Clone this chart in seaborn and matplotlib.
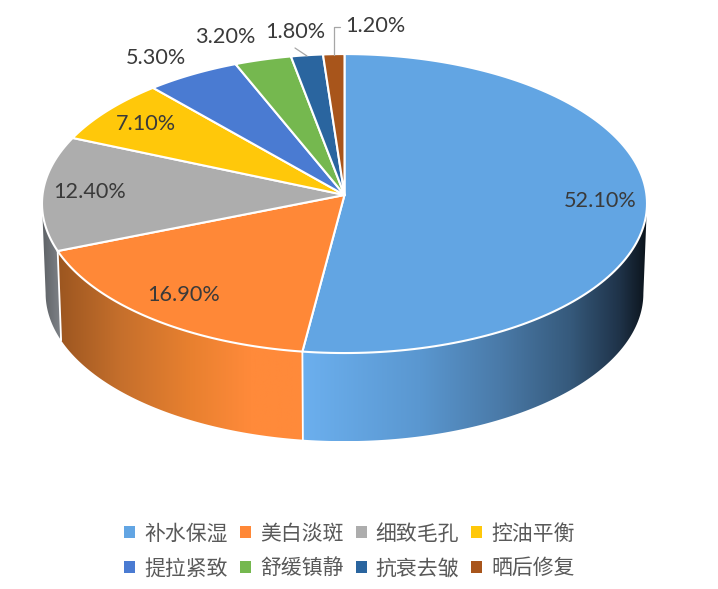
import numpy as np
import matplotlib
matplotlib.use('Agg')
import matplotlib.pyplot as plt
import seaborn as sns
from matplotlib.colors import LinearSegmentedColormap
from matplotlib.patches import Patch, Polygon

# данные
categories = ['补水保湿', '美白淡斑', '细致毛孔', '控油平衡', '提拉紧致', '舒缓镇静', '抗衰去皱', '晒后修复']
values = [52.1, 16.9, 12.4, 7.1, 5.3, 3.2, 1.8, 1.2]
top_colors = ['#62a5e3', '#ff8837', '#adadad', '#ffc80a', '#4a7bd2', '#75b84f', '#2a659f', '#a8551b']
label_pos = [(600, 201), (184, 295), (90, 192), (146, 124), (156, 58), (225, 37), (295, 32), (375, 26)]

# геометрия пирога в пикселях
CX, CY = 344.5, 195
A, B = 302, 149
K = 0.0572      # перспектива
DEPTH = 90
BOTTOM_SCALE = 0.988

sns.set_theme(style='white')
plt.rcParams['font.family'] = ['Noto Sans CJK SC', 'DejaVu Sans']

fig = plt.figure(figsize=(7.18, 5.89), dpi=100)
ax = fig.add_axes([0, 0, 1, 1])
ax.set_axis_off()
palette = sns.color_palette(top_colors)


def rim(theta, scale=1.0, dy=0.0):
    """Точка края диска для угла theta (градусы)."""
    t = np.radians(theta)
    w = 1 + K * np.sin(t)
    return CX + scale * A * np.cos(t) / w, CY + dy - scale * B * np.sin(t) / w


def side_wall(t0, t1, stops):
    """Боковая стенка с горизонтальным градиентом."""
    th = np.linspace(t0, t1, 120)
    x_top, y_top = rim(th)
    x_bot, y_bot = rim(th, BOTTOM_SCALE, DEPTH)
    pts = np.vstack([np.column_stack([x_top, y_top]), np.column_stack([x_bot, y_bot])[::-1]])
    xs = [s[0] for s in stops]
    cmap = LinearSegmentedColormap.from_list(
        'w', [((x - xs[0]) / (xs[-1] - xs[0]), c) for x, c in stops])
    im = ax.imshow(np.linspace(0, 1, 256)[None, :], cmap=cmap, aspect='auto',
                   extent=(xs[0], xs[-1], pts[:, 1].max(), pts[:, 1].min()), zorder=1)
    im.set_clip_path(Polygon(pts, transform=ax.transData))


# границы секторов: от 90 градусов по часовой стрелке
edges = 90 - 3.6 * np.concatenate([[0], np.cumsum(values)])
sil = np.degrees(np.arcsin(K))

side_wall(edges[1], -sil, [(300, '#6cb0ef'), (420, '#5a97d0'), (500, '#4a7aa8'),
                           (570, '#365a7c'), (620, '#1f3349'), (647, '#0c141c')])
side_wall(edges[2], edges[1], [(58, '#9c5620'), (120, '#c56f2c'), (190, '#e8802f'),
                               (250, '#ff8a3a'), (304, '#ff8a3a')])
side_wall(-180 + sil, edges[2], [(40, '#5a5e62'), (60, '#7d8186')])

# разделители на стенке
for e in (edges[1], edges[2]):
    x0, y0 = rim(e)
    x1, y1 = rim(e, BOTTOM_SCALE, DEPTH)
    ax.plot([x0, x1], [y0, y1], color='white', lw=1.3, zorder=2)

# верхняя крышка
for i, color in enumerate(palette):
    th = np.linspace(edges[i], edges[i + 1], 150)
    x, y = rim(th)
    ax.fill(np.r_[CX, x], np.r_[CY, y], facecolor=color, edgecolor='white', lw=1.5,
            joinstyle='round', zorder=3)

# подписи значений
for v, (px, py) in zip(values, label_pos):
    ax.text(px, py, f'{v:.2f}%', ha='center', va='center', fontsize=15.6,
            family=['Lato', 'DejaVu Sans'], color='#3a3a3a', zorder=5)

# выноски
ax.plot([295, 307], [48, 56], color='#a6a6a6', lw=0.9, zorder=4)
ax.plot([334, 334, 340], [55, 27, 27], color='#a6a6a6', lw=0.9, zorder=4)

ax.set_xlim(0, 718)
ax.set_ylim(589, 0)

# легенда заполняется по столбцам, поэтому порядок меняем, чтобы читалась по строкам
order = [0, 4, 1, 5, 2, 6, 3, 7]
handles = [Patch(facecolor=palette[i], edgecolor='none') for i in order]
ax.legend(handles, [categories[i] for i in order], ncol=4, frameon=False, loc='center',
          bbox_to_anchor=(349.5, 551), bbox_transform=ax.transData, fontsize=15,
          labelcolor='#595959', handlelength=0.53, handleheight=0.53, handletextpad=0.43,
          columnspacing=0.58, labelspacing=0.62, borderpad=0)

fig.savefig('out.png', dpi=100, facecolor='white')
